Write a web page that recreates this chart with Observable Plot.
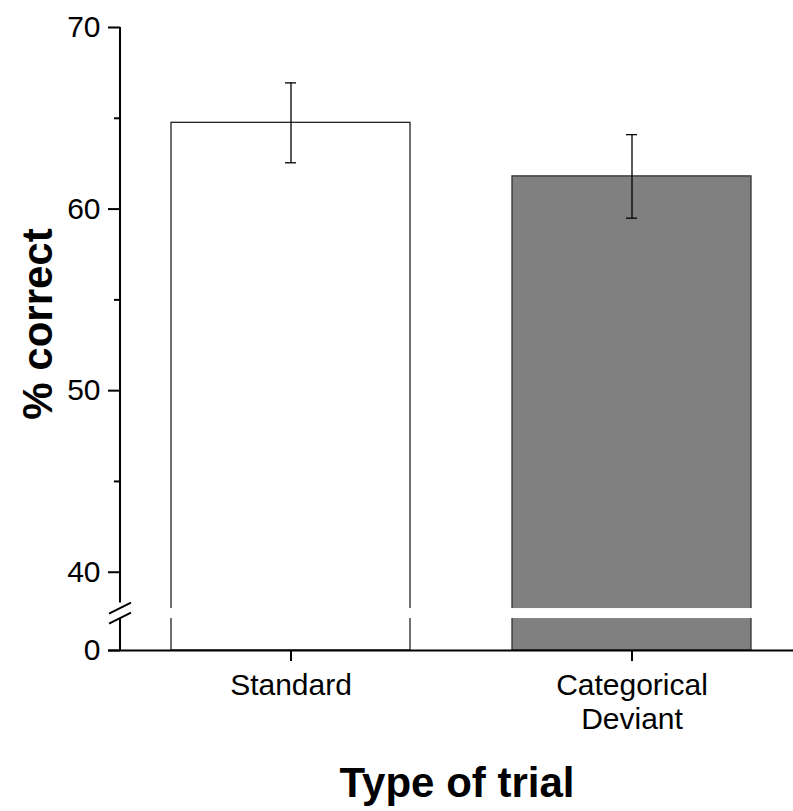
<!DOCTYPE html>
<html><head><meta charset="utf-8">
<script src="https://cdn.jsdelivr.net/npm/d3@7"></script>
<script src="https://cdn.jsdelivr.net/npm/@observablehq/plot@0.6"></script>
<style>body{margin:0;background:#fff} #chart svg{display:block}</style>
</head><body><div id="chart"></div>
<script>
const categories = ["Standard", "Categorical Deviant"];
const means = [64.75, 61.8];
const errors = [2.2, 2.3];
const barFills = ["#ffffff", "#808080"];
const barStrokes = ["#222222", "#333333"];
const yTicks = [0, 40, 50, 60, 70];
const yMinorTicks = [45, 55, 65];
const breakLow = 30, breakHigh = 38;

// broken axis: values 0..30 squeezed into a short stub, 30..38 is the gap
const breakMap = d3.scaleLinear([0, breakLow, breakHigh, 70], [35.69, 37.45, breakHigh, 70]);

const data = categories.map((c, i) => ({cat: c, mean: means[i], lo: means[i] - errors[i], hi: means[i] + errors[i], fill: barFills[i], stroke: barStrokes[i]}));
const fmt = v => String(Math.round(breakMap.invert(v)));

const font = '"Liberation Sans", Arial, Helvetica, sans-serif';
const plot = Plot.plot({
  width: 793, height: 811,
  marginTop: 27, marginBottom: 161, marginLeft: 120, marginRight: 0,
  style: {fontFamily: font, background: "#fff", color: "#000"},
  x: {domain: categories, range: [120, 802], paddingInner: 0.3, paddingOuter: 0.15},
  y: {domain: [breakMap(0), breakMap(70)], range: [650, 27]},
  marks: [
    Plot.barY(data, {x: "cat", y1: () => breakMap(0), y2: d => breakMap(d.mean), fill: d => d.fill, stroke: d => d.stroke, strokeWidth: 1.3}),
    Plot.barY(categories, {x: d => d, y1: () => breakMap(breakLow), y2: () => breakMap(breakHigh), fill: "white", insetLeft: -6, insetRight: -6}),
    Plot.ruleX(data, {x: "cat", y1: d => breakMap(d.lo), y2: d => breakMap(d.hi), stroke: "#000", strokeWidth: 1.3}),
    Plot.tickY(data, {x: "cat", y: d => breakMap(d.lo), insetLeft: 114, insetRight: 114, stroke: "#000", strokeWidth: 1.3}),
    Plot.tickY(data, {x: "cat", y: d => breakMap(d.hi), insetLeft: 114, insetRight: 114, stroke: "#000", strokeWidth: 1.3}),
    Plot.ruleY([breakMap(0)], {insetLeft: -12, stroke: "#000", strokeWidth: 2}),
    Plot.axisY(yTicks.map(breakMap), {tickSize: 12, tickPadding: 8, fontSize: 30, label: null, strokeWidth: 2, tickFormat: fmt}),
    Plot.axisY(yMinorTicks.map(breakMap), {tickSize: 6, tickFormat: () => "", label: null, strokeWidth: 2}),
    Plot.axisX({tickSize: 11, tickPadding: 9, fontSize: 30, lineHeight: 1.15, label: null, tickFormat: d => d.replace(" ", "\n"), strokeWidth: 2}),
    Plot.text(["% correct"], {text: d => d, frameAnchor: "left", textAnchor: "middle", rotate: -90, dx: -82, dy: -15, fontSize: 42, fontWeight: "bold"}),
    Plot.text(["Type of trial"], {text: d => d, frameAnchor: "bottom", textAnchor: "middle", dy: 146, fontSize: 42, fontWeight: "bold"})
  ]
});
document.getElementById("chart").appendChild(plot);

// broken y-axis line and break marks, positioned through the plot's scales
const ys = plot.scale("y");
const xs = plot.scale("x");
const ylin = d3.scaleLinear(ys.domain, ys.range);
const y = v => ylin(breakMap(v));
const ax = xs.range[0];
const svg = d3.select(plot.tagName.toLowerCase() === "svg" ? plot : plot.querySelector("svg"));
const g = svg.append("g").attr("stroke", "#000").attr("stroke-width", 2).attr("fill", "none");
g.append("line").attr("x1", ax).attr("x2", ax).attr("y1", y(70)).attr("y2", y(breakHigh + 0.3));
g.append("line").attr("x1", ax).attr("x2", ax).attr("y1", y(breakLow)).attr("y2", y(0));
for (const v of [breakHigh, breakLow]) {
  g.append("line").attr("x1", ax - 11).attr("y1", y(v) + 5.5).attr("x2", ax + 11).attr("y2", y(v) - 5.5);
}
</script>
</body></html>
